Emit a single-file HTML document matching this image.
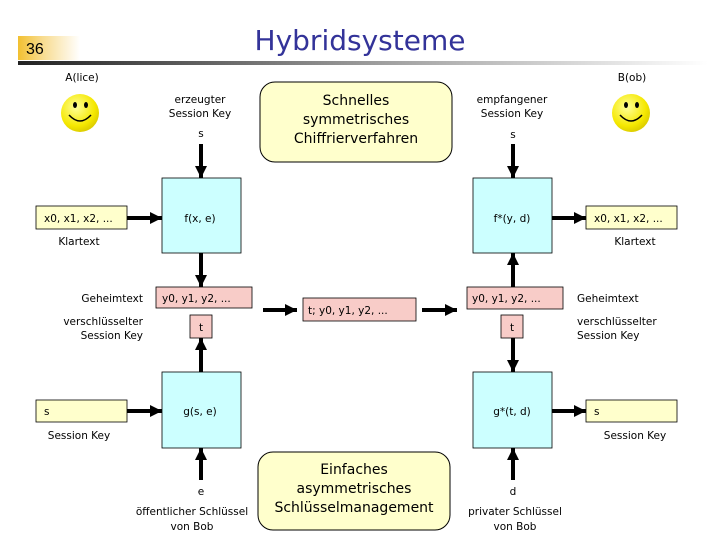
<!DOCTYPE html>
<html><head><meta charset="utf-8"><style>
html,body{margin:0;padding:0;background:#fff;}
svg{display:block;}
text{font-family:"DejaVu Sans","Liberation Sans",sans-serif;font-size:10.5px;fill:#000;}
</style></head><body>
<svg width="720" height="540" viewBox="0 0 720 540" xmlns="http://www.w3.org/2000/svg">
<defs>
<linearGradient id="gold" x1="0" x2="1" y1="0" y2="0"><stop offset="0" stop-color="#f2c030"/><stop offset="0.4" stop-color="#f8dc90"/><stop offset="1" stop-color="#ffffff"/></linearGradient>
<linearGradient id="bar" x1="0" x2="1" y1="0" y2="0"><stop offset="0" stop-color="#222"/><stop offset="0.5" stop-color="#999"/><stop offset="1" stop-color="#fff"/></linearGradient>
<radialGradient id="sm" cx="0.4" cy="0.35" r="0.7"><stop offset="0" stop-color="#ffff99"/><stop offset="0.7" stop-color="#f5e800"/><stop offset="1" stop-color="#d8c800"/></radialGradient>
<marker id="ah" markerWidth="3" markerHeight="3" refX="3" refY="1.5" orient="auto" markerUnits="strokeWidth"><path d="M0,0 L3,1.5 L0,3 z" fill="#000"/></marker>
</defs>
<rect x="18" y="36" width="62" height="24" fill="url(#gold)"/>
<text x="26" y="54" style="font-size:16px;font-family:'Liberation Sans',sans-serif">36</text>
<rect x="18" y="61" width="690" height="4" fill="url(#bar)"/>
<text x="360" y="50" text-anchor="middle" style="font-size:28px;fill:#333399">Hybridsysteme</text>

<text x="82" y="81" text-anchor="middle">A(lice)</text>
<text x="632" y="81" text-anchor="middle">B(ob)</text>
<g>
<circle cx="80" cy="113" r="19" fill="url(#sm)"/><ellipse cx="75" cy="105" rx="2" ry="3"/><ellipse cx="86" cy="105" rx="2" ry="3"/><path d="M69,115 Q80,127 91,115" stroke="#000" stroke-width="1.5" fill="none"/>
<circle cx="631" cy="113" r="19" fill="url(#sm)"/><ellipse cx="626" cy="105" rx="2" ry="3"/><ellipse cx="637" cy="105" rx="2" ry="3"/><path d="M620,115 Q631,127 642,115" stroke="#000" stroke-width="1.5" fill="none"/>
</g>

<text x="200" y="103" text-anchor="middle">erzeugter</text>
<text x="200" y="117" text-anchor="middle">Session Key</text>
<text x="201" y="137" text-anchor="middle">s</text>
<text x="512" y="103" text-anchor="middle">empfangener</text>
<text x="512" y="117" text-anchor="middle">Session Key</text>
<text x="513" y="138" text-anchor="middle">s</text>

<rect x="260" y="82" width="192" height="80" rx="15" fill="#ffffcc" stroke="#000"/>
<text x="356" y="105" text-anchor="middle" style="font-size:14px">Schnelles</text>
<text x="356" y="124" text-anchor="middle" style="font-size:14px">symmetrisches</text>
<text x="356" y="143" text-anchor="middle" style="font-size:14px">Chiffrierverfahren</text>
<rect x="258" y="452" width="192" height="78" rx="15" fill="#ffffcc" stroke="#000"/>
<text x="354" y="474" text-anchor="middle" style="font-size:14px">Einfaches</text>
<text x="354" y="493" text-anchor="middle" style="font-size:14px">asymmetrisches</text>
<text x="354" y="512" text-anchor="middle" style="font-size:14px">Schlüsselmanagement</text>

<g stroke="#000" stroke-width="0.8">
<rect x="162" y="178" width="79" height="75" fill="#ccffff"/>
<rect x="162" y="372" width="79" height="76" fill="#ccffff"/>
<rect x="473" y="178" width="79" height="75" fill="#ccffff"/>
<rect x="473" y="372" width="79" height="76" fill="#ccffff"/>
<rect x="36" y="206" width="91" height="23" fill="#ffffcc"/>
<rect x="36" y="400" width="91" height="22" fill="#ffffcc"/>
<rect x="586" y="206" width="91" height="23" fill="#ffffcc"/>
<rect x="586" y="400" width="91" height="22" fill="#ffffcc"/>
<rect x="156" y="287" width="96" height="21" fill="#f8ccc8"/>
<rect x="190" y="315" width="22" height="23" fill="#f8ccc8"/>
<rect x="303" y="298" width="113" height="23" fill="#f8ccc8"/>
<rect x="467" y="287" width="96" height="22" fill="#f8ccc8"/>
<rect x="501" y="315" width="22" height="23" fill="#f8ccc8"/>
</g>

<g stroke="#000" stroke-width="4" marker-end="url(#ah)">
<line x1="201" y1="144" x2="201" y2="178"/>
<line x1="127" y1="218" x2="162" y2="218"/>
<line x1="201" y1="253" x2="201" y2="287"/>
<line x1="201" y1="372" x2="201" y2="338"/>
<line x1="127" y1="411" x2="162" y2="411"/>
<line x1="201" y1="480" x2="201" y2="448"/>
<line x1="263" y1="310" x2="297" y2="310"/>
<line x1="422" y1="310" x2="457" y2="310"/>
<line x1="513" y1="144" x2="513" y2="178"/>
<line x1="552" y1="218" x2="586" y2="218"/>
<line x1="513" y1="287" x2="513" y2="253"/>
<line x1="513" y1="338" x2="513" y2="372"/>
<line x1="552" y1="411" x2="586" y2="411"/>
<line x1="513" y1="480" x2="513" y2="448"/>
</g>

<text x="44" y="222">x0, x1, x2, ...</text>
<text x="79" y="245" text-anchor="middle">Klartext</text>
<text x="594" y="222">x0, x1, x2, ...</text>
<text x="635" y="245" text-anchor="middle">Klartext</text>
<text x="200" y="222" text-anchor="middle">f(x, e)</text>
<text x="512" y="222" text-anchor="middle">f*(y, d)</text>
<text x="200" y="415" text-anchor="middle">g(s, e)</text>
<text x="512" y="415" text-anchor="middle">g*(t, d)</text>
<text x="44" y="415">s</text>
<text x="79" y="439" text-anchor="middle">Session Key</text>
<text x="594" y="415">s</text>
<text x="635" y="439" text-anchor="middle">Session Key</text>
<text x="162" y="302">y0, y1, y2, ...</text>
<text x="201" y="331" text-anchor="middle">t</text>
<text x="143" y="302" text-anchor="end">Geheimtext</text>
<text x="143" y="325" text-anchor="end">verschlüsselter</text>
<text x="143" y="339" text-anchor="end">Session Key</text>
<text x="308" y="314">t; y0, y1, y2, ...</text>
<text x="472" y="302">y0, y1, y2, ...</text>
<text x="512" y="331" text-anchor="middle">t</text>
<text x="577" y="302">Geheimtext</text>
<text x="577" y="325">verschlüsselter</text>
<text x="577" y="339">Session Key</text>
<text x="201" y="495" text-anchor="middle">e</text>
<text x="192" y="515" text-anchor="middle">öffentlicher Schlüssel</text>
<text x="192" y="530" text-anchor="middle">von Bob</text>
<text x="513" y="495" text-anchor="middle">d</text>
<text x="515" y="515" text-anchor="middle">privater Schlüssel</text>
<text x="515" y="530" text-anchor="middle">von Bob</text>
</svg>
</body></html>
